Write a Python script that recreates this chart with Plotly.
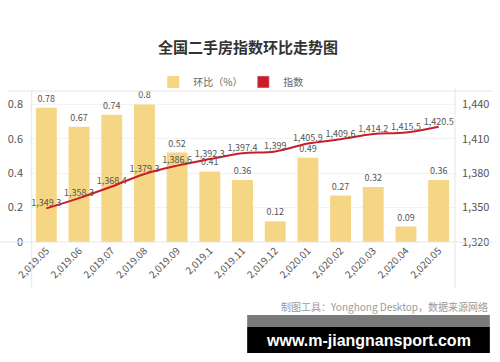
import plotly.graph_objects as go

months = ["2,019.05", "2,019.06", "2,019.07", "2,019.08", "2,019.09", "2,019.1",
          "2,019.11", "2,019.12", "2,020.01", "2,020.02", "2,020.03", "2,020.04", "2,020.05"]
mom_change = [0.78, 0.67, 0.74, 0.8, 0.52, 0.41, 0.36, 0.12, 0.49, 0.27, 0.32, 0.09, 0.36]
index_vals = [1349.3, 1358.3, 1368.4, 1379.3, 1386.6, 1392.3, 1397.4, 1399.0, 1405.9,
              1409.6, 1414.2, 1415.5, 1420.5]
left_ticks = [0, 0.2, 0.4, 0.6, 0.8]
right_ticks = [1320, 1350, 1380, 1410, 1440]


def fmt_index(v):
    s = f"{v:,.1f}"
    return s[:-2] if s.endswith(".0") else s


FONT = "Noto Sans CJK SC, Open Sans, sans-serif"
BAR_COLOR = "#F4D685"
LINE_COLOR = "#C81E2B"
GRID = "#E6E6E6"

fig = go.Figure()
fig.add_trace(go.Bar(
    x=months, y=mom_change, name="环比（%）",
    marker=dict(color=BAR_COLOR, line=dict(width=0)),
    text=[str(v) for v in mom_change], textposition="outside",
    textfont=dict(size=9, color="#555555"), cliponaxis=False,
    width=0.64,
))
fig.add_trace(go.Scatter(
    x=months, y=index_vals, name="指数", yaxis="y2", mode="lines+text",
    line=dict(color=LINE_COLOR, width=2, shape="spline"),
    text=[fmt_index(v) for v in index_vals], textposition="top center",
    textfont=dict(size=9, color="#555555"), cliponaxis=False, showlegend=False,
))
# legend-only entry so the index series shows a square swatch as in the reference
fig.add_trace(go.Bar(
    x=[months[0]], y=[None], name="指数", marker=dict(color=LINE_COLOR), showlegend=True,
))

top_l = 0.878
fig.update_layout(
    width=500, height=362,
    margin=dict(l=30, r=45, t=91, b=120, autoexpand=False),
    paper_bgcolor="white", plot_bgcolor="white",
    font=dict(family=FONT, color="#555555", size=10),
    title=dict(text="<b>全国二手房指数环比走势图</b>", x=0.496, xanchor="center",
               y=0.867, yanchor="middle", font=dict(size=15, color="#333333")),
    showlegend=True,
    barmode="overlay",
    legend=dict(orientation="h", x=0.29, xanchor="left", y=1.06, yanchor="middle",
                font=dict(size=10, color="#666666"), itemwidth=30,
                entrywidth=45, entrywidthmode="pixels",
                bgcolor="rgba(0,0,0,0)"),
    xaxis=dict(type="category", tickangle=-45, tickfont=dict(size=10, color="#555555"),
               showgrid=False, showline=False, ticks="", range=[-0.5, 12.5],
               automargin=False),
    yaxis=dict(range=[0, top_l], tickvals=left_ticks, ticktext=["0", "0.2", "0.4", "0.6", "0.8"],
               showgrid=True, gridcolor="#F2F2F2", zeroline=False, showline=False,
               tickfont=dict(size=11, color="#555555"), ticklabelstandoff=6,
               automargin=False),
    yaxis2=dict(overlaying="y", side="right",
                range=[1320, 1320 + top_l / 0.8 * 120], tickvals=right_ticks,
                ticktext=[f"{v:,}" for v in right_ticks], showgrid=False, zeroline=False,
                showline=False, tickfont=dict(size=11, color="#555555"),
                ticklabelstandoff=6, automargin=False),
)

shapes = [
    dict(type="line", xref="paper", yref="paper", x0=-0.054, x1=1.089, y0=1, y1=1,
         line=dict(color=GRID, width=1)),
    dict(type="line", xref="paper", yref="paper", x0=-0.07, x1=1.089, y0=0, y1=0,
         line=dict(color=GRID, width=1)),
    dict(type="line", xref="paper", yref="paper", x0=0.004, x1=0.004, y0=1, y1=-0.305,
         line=dict(color=GRID, width=1)),
    dict(type="line", xref="paper", yref="paper", x0=1, x1=1, y0=1.02, y1=-0.305,
         line=dict(color=GRID, width=1)),
    dict(type="rect", xref="paper", yref="paper", x0=0.511, x1=1.082, y0=-0.563, y1=-0.483,
         fillcolor="#7A7A7A", line=dict(width=0), layer="above"),
    dict(type="rect", xref="paper", yref="paper", x0=0.511, x1=1.082, y0=-0.735, y1=-0.563,
         fillcolor="#000000", line=dict(width=0), layer="above"),
]
fig.update_layout(shapes=shapes)

fig.add_annotation(text="制图工具：Yonghong Desktop，数据来源网络", xref="paper", yref="paper",
                   x=1.082, y=-0.424, xanchor="right", yanchor="middle", showarrow=False,
                   font=dict(size=10, color="#9A9A9A"))
fig.add_annotation(text="<b>www.m-jiangnansport.com</b>", xref="paper", yref="paper",
                   x=0.797, y=-0.65, xanchor="center", yanchor="middle", showarrow=False,
                   font=dict(size=16, color="#FFFFFF", family="Liberation Sans, Arial, sans-serif"))

fig.write_html("out.html", config={"displayModeBar": False},
               post_script="document.body.style.margin='0';document.body.style.overflow='hidden';")
